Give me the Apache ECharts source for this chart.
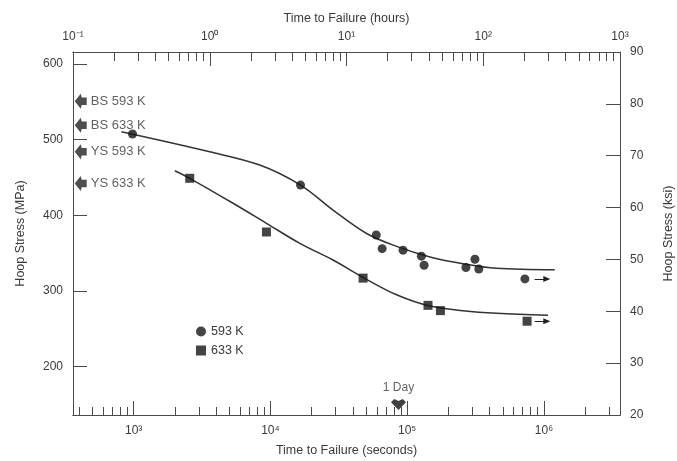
<!DOCTYPE html>
<html>
<head>
<meta charset="utf-8">
<script src="https://cdn.jsdelivr.net/npm/echarts@6/dist/echarts.min.js"></script>
<style>html,body{margin:0;padding:0;background:#fff}#c{width:677px;height:461px}</style>
</head>
<body>
<div id="c"></div>
<script>
// ---- data (time in seconds, stress in MPa) ----
const t593 = [980, 16600, 59400, 65600, 93300, 127000, 133000, 269000, 313000, 334000, 726000];
const s593 = [507.5, 440, 374, 356, 354, 346, 334, 331, 342, 329, 316];
const t633 = [2570, 9350, 47600, 142000, 175000, 753000];
const s633 = [449, 378, 317, 281, 274, 260];

// fitted curves
const fitT593 = [813, 3600, 8360, 16600, 28700, 50500, 83600, 147000, 256000, 451000, 1200000];
const fitS593 = [510.5, 484, 466.5, 440, 407, 376, 359, 345, 336, 330, 328];
const fitT633 = [2000, 2570, 5330, 9350, 16400, 28700, 47600, 83600, 147000, 256000, 451000, 1070000];
const fitS633 = [459, 449, 416, 389.5, 363, 341, 318, 295, 280, 274, 270.6, 268];

// run-out arrows: [from time, to time, stress]
const runout593 = [855000, 1050000, 316];
const runout633 = [855000, 1050000, 260];

// reference stress levels on the left
const refNames = ['BS 593 K', 'BS 633 K', 'YS 593 K', 'YS 633 K'];
const refStress = [551, 519, 484, 442];
const refTime = 410;

const dayTime = 86400;
const dayStress = 150;

// axis ticks and labels
const secMajor = [1e3, 1e4, 1e5, 1e6];
const secLabels = ['10³', '10⁴', '10⁵', '10⁶'];
const secMinor = [400,500,600,700,800,900,1000,2000,3000,4000,5000,6000,7000,8000,9000,
  1e4,2e4,3e4,4e4,5e4,6e4,7e4,8e4,9e4,1e5,2e5,3e5,4e5,5e5,6e5,7e5,8e5,9e5,1e6,2e6,3e6];
const hrMajor = [0.1, 1, 10, 100, 1000];
const hrLabels = ['10⁻¹', '10⁰', '10¹', '10²', '10³'];
const hrMinor = [0.2,0.3,0.4,0.5,0.6,0.7,0.8,0.9,1,2,3,4,5,6,7,8,9,10,20,30,40,50,60,70,80,90,
  100,200,300,400,500,600,700,800,900];
const mpaTicks = [200, 300, 400, 500, 600];
const ksiTicks = [30, 40, 50, 60, 70, 80];
const ksiLabels = [20, 30, 40, 50, 60, 70, 80, 90];

const TXT = '#3a3a3a';
const LINE = '#4a4a4a';
const FONT = 'Liberation Sans';

function lookup(vals, labels) {
  return function (v) {
    for (let i = 0; i < vals.length; i++) {
      if (Math.abs(Math.log10(v) - Math.log10(vals[i])) < 1e-4) return labels[i];
    }
    return '';
  };
}
const zip = (a, b) => a.map((v, i) => [v, b[i]]);

const baseLine = { show: true, lineStyle: { color: LINE, width: 1 } };
const nameStyle = { color: TXT, fontSize: 12.5, fontFamily: FONT };
const tickFont = { color: TXT, fontSize: 12, fontFamily: FONT };

const chart = echarts.init(document.getElementById('c'), null, { renderer: 'canvas' });
chart.setOption({
  animation: false,
  backgroundColor: '#fff',
  grid: { left: 73, right: 57, top: 52, bottom: 46, containLabel: false, outerBoundsMode: 'none' },
  legend: {
    orient: 'vertical', left: 191, top: 320, itemWidth: 10, itemHeight: 10, itemGap: 6,
    data: ['593 K', '633 K'],
    textStyle: { color: TXT, fontSize: 12.5, fontFamily: FONT }
  },
  xAxis: [
    { // bottom major (labels)
      type: 'log', position: 'bottom', min: 360, max: 3.6e6,
      name: 'Time to Failure (seconds)', nameLocation: 'middle', nameGap: 29,
      nameTextStyle: nameStyle,
      axisLine: baseLine,
      axisTick: { show: true, inside: true, length: 14, customValues: secMajor, lineStyle: { color: LINE } },
      axisLabel: Object.assign({ customValues: secMajor, formatter: lookup(secMajor, secLabels), margin: 10 }, tickFont),
      splitLine: { show: false }, minorTick: { show: false }
    },
    { // bottom minor
      type: 'log', position: 'bottom', min: 360, max: 3.6e6,
      axisLine: baseLine,
      axisTick: { show: true, inside: true, length: 8, customValues: secMinor, lineStyle: { color: LINE } },
      axisLabel: { show: false }, splitLine: { show: false }
    },
    { // top major (labels)
      type: 'log', position: 'top', min: 0.1, max: 1000,
      name: 'Time to Failure (hours)', nameLocation: 'middle', nameGap: 27,
      nameTextStyle: nameStyle,
      axisLine: baseLine,
      axisTick: { show: true, inside: true, length: 14, customValues: hrMajor, lineStyle: { color: LINE } },
      axisLabel: Object.assign({ customValues: hrMajor, formatter: lookup(hrMajor, hrLabels), margin: 9 }, tickFont),
      splitLine: { show: false }
    },
    { // top minor
      type: 'log', position: 'top', min: 0.1, max: 1000,
      axisLine: baseLine,
      axisTick: { show: true, inside: true, length: 9, customValues: hrMinor, lineStyle: { color: LINE } },
      axisLabel: { show: false }, splitLine: { show: false }
    }
  ],
  yAxis: [
    {
      type: 'value', position: 'left', min: 136, max: 616,
      name: 'Hoop Stress (MPa)', nameLocation: 'middle', nameGap: 46, nameRotate: 90,
      nameTextStyle: nameStyle,
      axisLine: baseLine,
      axisTick: { show: true, inside: true, length: 14, customValues: mpaTicks, lineStyle: { color: LINE } },
      axisLabel: Object.assign({ customValues: mpaTicks, margin: 10 }, tickFont),
      splitLine: { show: false }
    },
    {
      type: 'value', position: 'right', min: 20, max: 90,
      name: 'Hoop Stress (ksi)', nameLocation: 'middle', nameGap: 42, nameRotate: 90,
      nameTextStyle: nameStyle,
      axisLine: baseLine,
      axisTick: { show: true, inside: true, length: 14, customValues: ksiTicks, lineStyle: { color: LINE } },
      axisLabel: Object.assign({ customValues: ksiLabels, margin: 10 }, tickFont),
      splitLine: { show: false }
    }
  ],
  series: [
    {
      type: 'line', name: 'fit593', xAxisIndex: 0, yAxisIndex: 0, smooth: 0.35,
      showSymbol: false, silent: true,
      lineStyle: { color: '#333', width: 1.5 },
      data: zip(fitT593, fitS593), z: 2
    },
    {
      type: 'line', name: 'fit633', xAxisIndex: 0, yAxisIndex: 0, smooth: 0.35,
      showSymbol: false, silent: true,
      lineStyle: { color: '#333', width: 1.5 },
      data: zip(fitT633, fitS633), z: 2
    },
    {
      type: 'scatter', name: '593 K', xAxisIndex: 0, yAxisIndex: 0,
      symbol: 'circle', symbolSize: 9,
      itemStyle: { color: '#151515' },
      data: zip(t593, s593), z: 3,
      markLine: {
        silent: true, symbol: ['none', 'triangle'], symbolSize: [6, 7],
        lineStyle: { color: '#222', width: 1, type: 'solid' }, label: { show: false },
        data: [[{ coord: [runout593[0], runout593[2]] }, { coord: [runout593[1], runout593[2]] }]]
      }
    },
    {
      type: 'scatter', name: '633 K', xAxisIndex: 0, yAxisIndex: 0,
      symbol: 'rect', symbolSize: 9,
      itemStyle: { color: '#151515' },
      data: zip(t633, s633), z: 3,
      markLine: {
        silent: true, symbol: ['none', 'triangle'], symbolSize: [6, 7],
        lineStyle: { color: '#222', width: 1, type: 'solid' }, label: { show: false },
        data: [[{ coord: [runout633[0], runout633[2]] }, { coord: [runout633[1], runout633[2]] }]]
      }
    },
    {
      type: 'scatter', name: 'refs', xAxisIndex: 0, yAxisIndex: 0,
      symbol: 'path://M0,6 L6,0 L7,3 L12,3 L12,9 L7,9 L6,12 Z', symbolSize: [12, 15],
      itemStyle: { color: '#222' },
      label: { show: true, position: 'right', distance: 4, color: TXT, fontSize: 13, fontFamily: FONT,
        formatter: p => refNames[p.dataIndex] },
      data: zip(refStress.map(() => refTime), refStress), z: 4
    },
    {
      type: 'scatter', name: 'day', xAxisIndex: 0, yAxisIndex: 0,
      symbol: 'path://M0,3 L3,0 L7,2 L11,0 L14,3 L7,10 Z', symbolSize: [15, 11],
      itemStyle: { color: '#111' },
      label: { show: true, position: 'top', distance: 5, color: TXT, fontSize: 12, fontFamily: FONT,
        formatter: '1 Day' },
      data: [[dayTime, dayStress]], z: 4
    }
  ]
});
</script>
</body>
</html>
